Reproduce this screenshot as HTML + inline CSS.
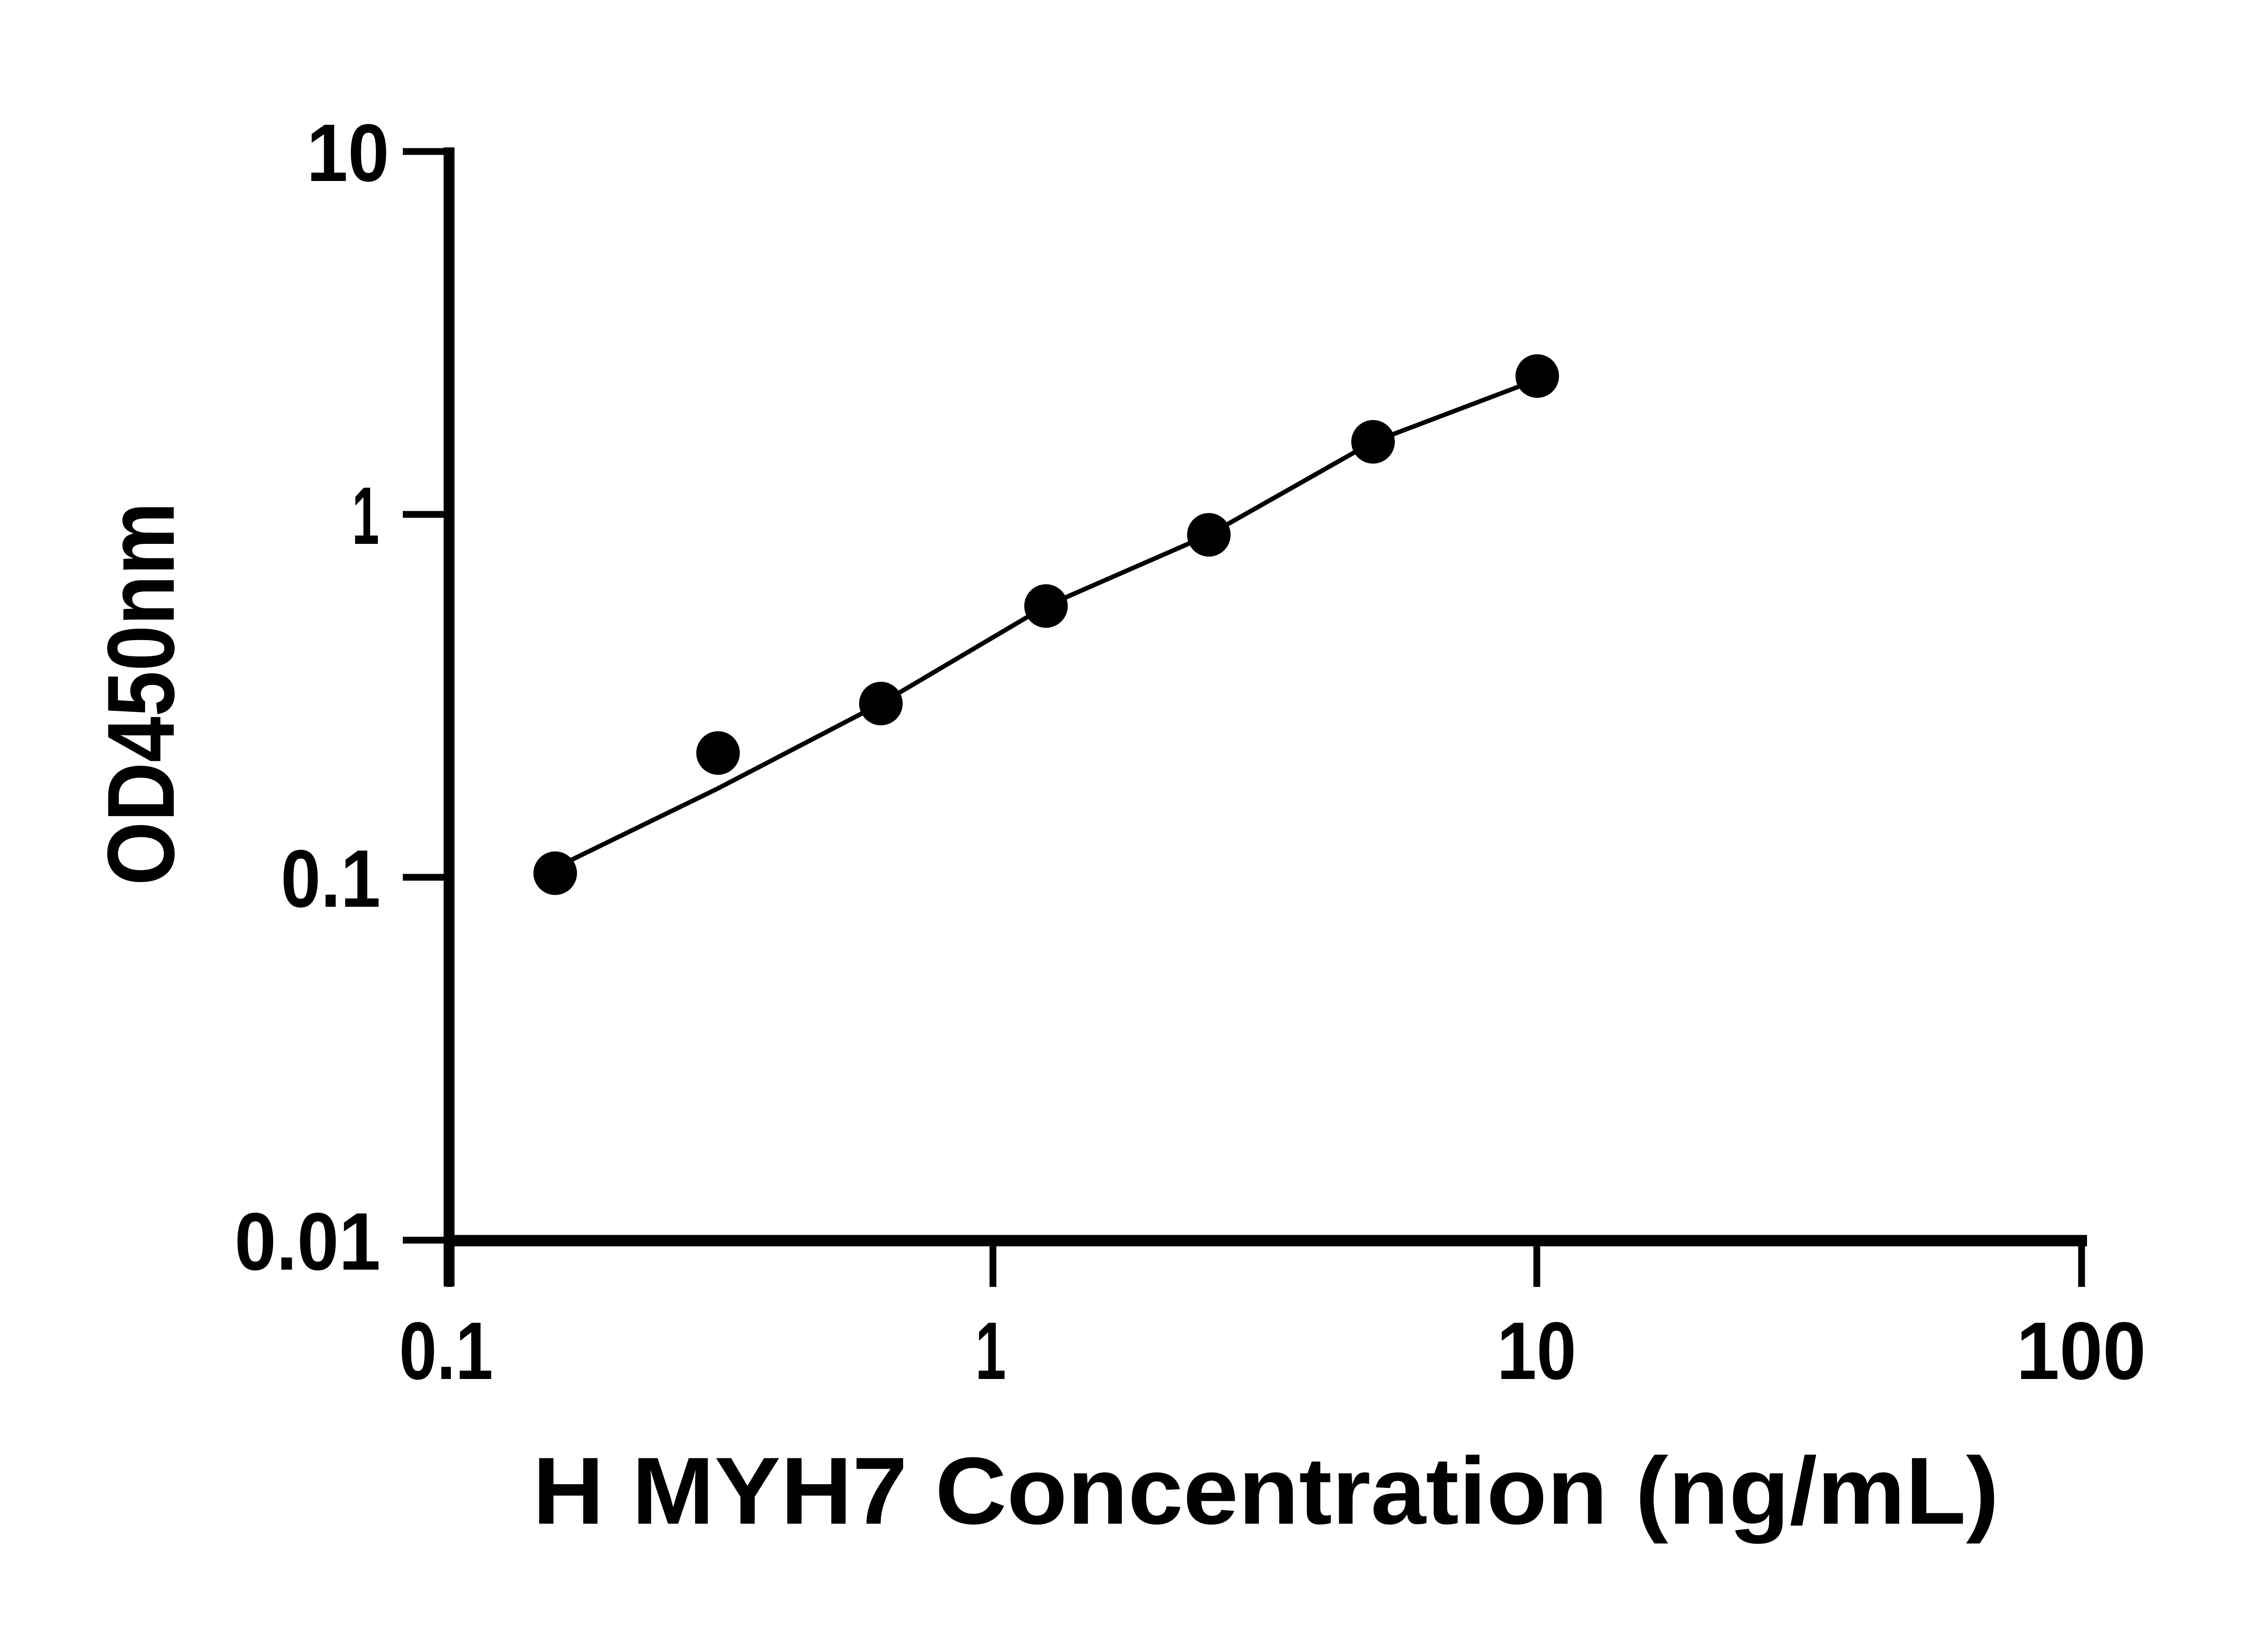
<!DOCTYPE html>
<html><head><meta charset="utf-8"><style>html,body{margin:0;padding:0;background:#fff}svg{display:block}</style></head>
<body>
<svg width="5142" height="3600" viewBox="0 0 5142 3600" xmlns="http://www.w3.org/2000/svg" font-family="Liberation Sans, DejaVu Sans, sans-serif" font-weight="bold" fill="#000">
<rect width="5142" height="3600" fill="#fff"/>
<line x1="990" y1="325" x2="990" y2="2836" stroke="#000" stroke-width="24"/>
<line x1="978" y1="2735" x2="4601" y2="2735" stroke="#000" stroke-width="25"/>
<g stroke="#000" stroke-width="15">
<line x1="888" y1="334" x2="990" y2="334"/>
<line x1="888" y1="1134" x2="990" y2="1134"/>
<line x1="888" y1="1934" x2="990" y2="1934"/>
<line x1="888" y1="2734" x2="990" y2="2734"/>
<line x1="990" y1="2735" x2="990" y2="2837"/>
<line x1="2189" y1="2735" x2="2189" y2="2837"/>
<line x1="3388" y1="2735" x2="3388" y2="2837"/>
<line x1="4589" y1="2735" x2="4589" y2="2837"/>
</g>
<g font-size="180">
<text x="676" y="399" textLength="182" lengthAdjust="spacingAndGlyphs">10</text>
<text x="776" y="1199" textLength="60" lengthAdjust="spacingAndGlyphs">1</text>
<text x="619" y="1999" textLength="220" lengthAdjust="spacingAndGlyphs">0.1</text>
<text x="517" y="2799" textLength="322" lengthAdjust="spacingAndGlyphs">0.01</text>
</g>
<g font-size="180">
<text x="880" y="3040" textLength="207" lengthAdjust="spacingAndGlyphs">0.1</text>
<text x="2150" y="3040" textLength="68" lengthAdjust="spacingAndGlyphs">1</text>
<text x="3300" y="3040" textLength="175" lengthAdjust="spacingAndGlyphs">10</text>
<text x="4445" y="3040" textLength="286" lengthAdjust="spacingAndGlyphs">100</text>
</g>
<text x="1174" y="3359" font-size="210" textLength="3233" lengthAdjust="spacingAndGlyphs">H MYH7 Concentration (ng/mL)</text>
<text transform="translate(383,1952) rotate(-90)" font-size="210" textLength="845" lengthAdjust="spacingAndGlyphs">OD450nm</text>
<polyline fill="none" stroke="#000" stroke-width="10" stroke-linejoin="round" points="1259,1896 1583,1738 1942,1551 2306,1336 2665,1179 3027,974 3349,852"/>
<g>
<circle cx="1224" cy="1925" r="48"/>
<circle cx="1583" cy="1660" r="48"/>
<circle cx="1942" cy="1551" r="48"/>
<circle cx="2306" cy="1336" r="48"/>
<circle cx="2665" cy="1179" r="48"/>
<circle cx="3027" cy="974" r="48"/>
<circle cx="3389" cy="829" r="48"/>
</g>
</svg>
</body></html>
